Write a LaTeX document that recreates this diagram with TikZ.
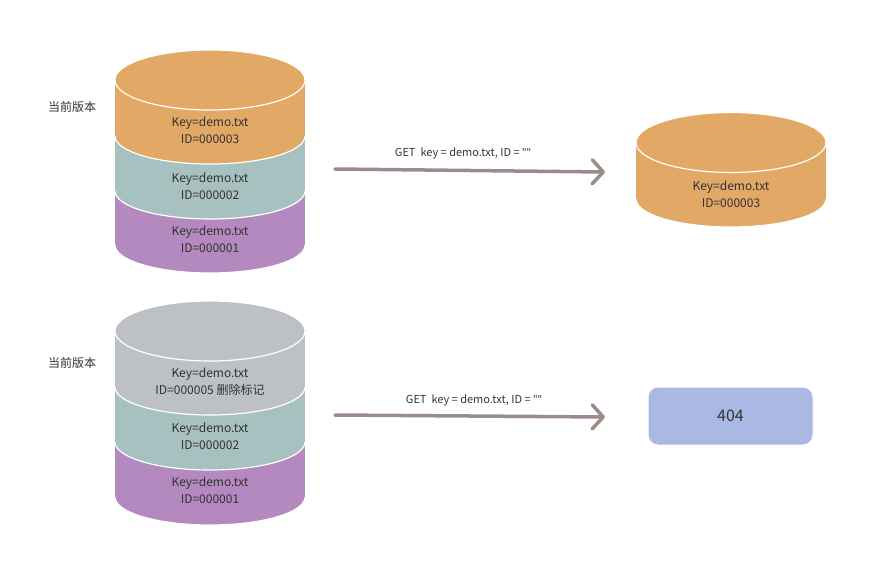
\documentclass[tikz,border=0pt]{standalone}
\usepackage{fontspec}
\setmainfont{Noto Sans CJK SC}
\newfontfamily\latinfont{Noto Sans}
\usepackage{tikz}
\usetikzlibrary{arrows.meta}
\definecolor{verorange}{RGB}{226,168,101}
\definecolor{verteal}{RGB}{167,192,192}
\definecolor{verpurple}{RGB}{180,137,191}
\definecolor{vergrey}{RGB}{189,192,196}
\definecolor{notfound}{RGB}{169,185,228}
\definecolor{getarrow}{RGB}{155,139,137}
\definecolor{txt}{RGB}{51,51,51}
\tikzset{
	dbtext/.style={align=center, text=txt, font=\fontsize{12}{17}\selectfont},
	reqtext/.style={text=txt, font=\fontsize{11}{12}\selectfont},
	vertext/.style={text=txt, font=\fontsize{12}{14}\selectfont},
	getreq/.style={getarrow, line width=3.5pt, line cap=round, -{Straight Barb[round,length=11pt,width=24pt]}},
	nfbox/.style={fill=notfound, draw=white, line width=1pt, rounded corners=10pt, minimum width=165pt, minimum height=58pt, text=txt, font=\fontsize{16}{18}\selectfont}
}
\newcommand{\dblayer}[4]{% {colour}{x}{top}{bottom}
	\filldraw[fill=#1, draw=white, line width=1.2pt] (#2,#4) ellipse [x radius=95, y radius=28];
	\fill[#1] ({#2-95},#3) rectangle ({#2+95},#4);
}
\newcommand{\dbtop}[3]{% {colour}{x}{y}
	\filldraw[fill=#1, draw=white, line width=1.2pt] (#2,#3) ellipse [x radius=95, y radius=30];
}
\newcommand{\emptyid}{{\latinfont ""}}

\begin{document}
\begin{tikzpicture}[x=1pt, y=-1pt]
	\useasboundingbox (0,0) rectangle (878,576);
	% upper store
	\dblayer{verpurple}{210}{191}{245}
	\dblayer{verteal}{210}{136}{191}
	\dblayer{verorange}{210}{80}{136}
	\dbtop{verorange}{210}{80}
	\node[vertext] (cur1) at (72,107) {当前版本};
	\node[dbtext] (v3) at (210,130.5) {Key=demo.txt\\ID=000003};
	\node[dbtext] (v2) at (210,186) {Key=demo.txt\\ID=000002};
	\node[dbtext] (v1) at (210,239) {Key=demo.txt\\ID=000001};

	% result store
	\dblayer{verorange}{731}{142.5}{199}
	\dbtop{verorange}{731}{142.5}
	\node[dbtext] (res) at (731,194.5) {Key=demo.txt\\ID=000003};

	\coordinate (get1s) at (335,169);
	\coordinate (get1e) at (605,172);
	\draw[getreq] (get1s) -- (get1e);
	\node[reqtext] (req1) at (463,153) {GET\ \ key = demo.txt, ID = \emptyid};

	% lower store
	\dblayer{verpurple}{210}{442}{497}
	\dblayer{verteal}{210}{387}{442}
	\dblayer{vergrey}{210}{331}{387}
	\dbtop{vergrey}{210}{331}
	\node[vertext] (cur2) at (72,363) {当前版本};
	\node[dbtext] (v5) at (210,381.5) {Key=demo.txt\\ID=000005 删除标记};
	\node[dbtext] (v2b) at (210,436.5) {Key=demo.txt\\ID=000002};
	\node[dbtext] (v1b) at (210,490.5) {Key=demo.txt\\ID=000001};

	\node[nfbox] (nf) at (730.5,416) {404};

	\coordinate (get2s) at (335,415);
	\coordinate (get2e) at (605,417);
	\draw[getreq] (get2s) -- (get2e);
	\node[reqtext] (req2) at (474,400) {GET\ \ key = demo.txt, ID = \emptyid};
\end{tikzpicture}
\end{document}
